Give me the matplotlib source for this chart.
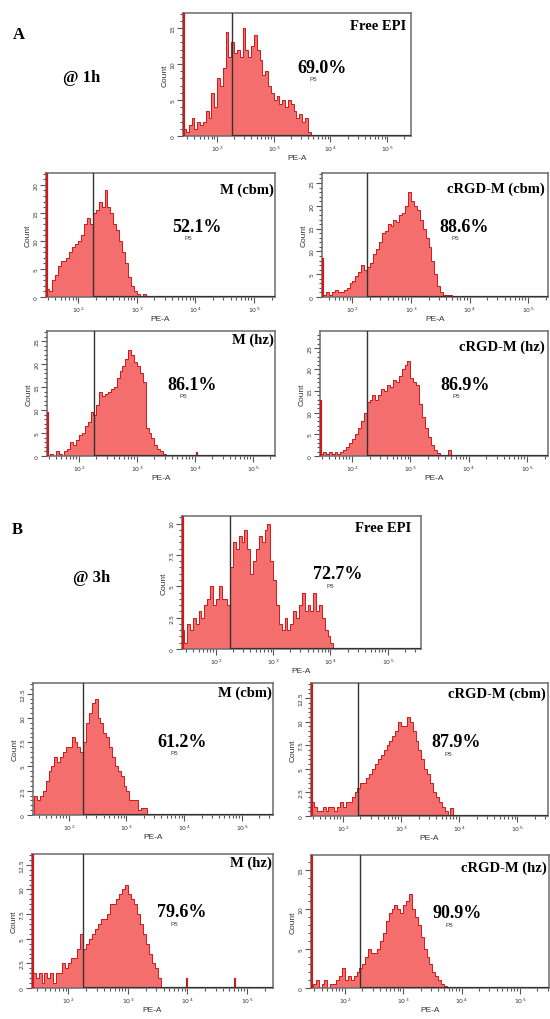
import numpy as np
import matplotlib.pyplot as plt
from matplotlib.ticker import MultipleLocator, AutoMinorLocator, LogLocator, NullFormatter, FuncFormatter

W, H = 550, 1020

# PE-A histograms: counts per bin, bins are 0.05 decade wide starting at 10^1.40
BIN_START, BIN_WIDTH = 1.40, 0.05
GATE = 180  # P5 gate position on PE-A

free_epi_1h = [1, 0.5, 1.5, 2.5, 1, 2, 1.5, 2, 3.5, 2.5,
               6, 4, 8, 7, 9.5, 14.5, 11, 13, 11.5, 12,
               11, 15, 12, 11, 12.5, 14, 12, 10.5, 8.5, 9,
               7, 6, 5, 5.5, 4.5, 5, 4, 5, 4.5, 3.5,
               2.5, 3, 2, 2.5, 0.5]
m_cbm_1h = [3, 1.5, 1, 3, 4, 5.5, 6.5, 6.5, 7, 8,
            9, 9.5, 10, 11, 13, 14, 13, 15, 15.5, 17,
            16, 19, 16, 15, 13, 12, 10, 8, 6, 3.5,
            2, 1, 0.5, 0, 0.5]
crgd_cbm_1h = [0, 0.5, 0.5, 1, 0.5, 1, 1.5, 1, 1, 1.5,
               2, 3, 3.5, 4.5, 5.5, 7, 6, 6.5, 7.5, 9.5,
               10.5, 12, 14, 14.5, 16, 15.5, 17, 16.5, 18, 18.5,
               20, 23, 21, 20, 19, 17, 15, 13, 11, 8,
               5, 2.5, 1, 0.5, 0.5, 0.5, 0]
m_hz_1h = [0, 0, 0.5, 0, 1, 0.5, 0, 1, 1.5, 3,
           2.5, 3.5, 4.5, 5, 6.5, 7.5, 9.5, 9, 11, 14,
           13, 13.5, 14, 14.5, 15, 17, 18.5, 19.5, 21, 23,
           22, 20.5, 19.5, 18, 16, 6, 5, 4, 2.5, 1.5,
           1, 0.5, 0]
crgd_hz_1h = [0, 0.5, 1, 0.5, 1, 0.5, 1, 0.5, 1, 1.5,
              2, 3, 4, 5, 6.5, 8, 10, 12.5, 13, 14,
              13, 14, 15.5, 15, 16.5, 16, 17.5, 17, 18.5, 20,
              21, 22, 18, 17, 16.5, 12, 9, 6.5, 4.5, 2.5,
              1.5, 0.8, 0, 0, 0, 1.5, 0]

free_epi_3h = [1.5, 0.5, 2, 1.5, 2.5, 2, 3, 2.5, 3.5, 4,
               5, 3.5, 4, 5, 4, 4, 3.5, 6.5, 8.5, 8,
               9, 8.5, 9.5, 8, 6, 7, 8, 9, 8.5, 9.5,
               10, 7, 5.5, 3.5, 2, 1.5, 2.5, 1.5, 2, 3,
               2.5, 3.5, 4.5, 3, 3.5, 3, 4.5, 3, 3.5, 2.5,
               1.5, 1, 0.5, 0]
m_cbm_3h = [2, 1.5, 2, 2.5, 3.5, 4.5, 5, 6, 5.5, 6,
            6.5, 7, 7, 8, 7.5, 7, 6.5, 7.5, 9.5, 10.5,
            11.5, 12, 10, 9.5, 8.5, 8, 7, 6, 5, 4.5,
            4, 3, 2.5, 1.5, 1.5, 1.5, 0.5, 0.7, 0.7, 0]
crgd_cbm_3h = [0.5, 1.5, 1, 0.5, 0.5, 1, 0.5, 1, 1, 0.5,
               1, 1.5, 1, 1.5, 1.5, 2, 2.5, 3, 3.5, 3.5,
               4, 4.5, 5, 5.5, 6, 6.5, 7, 7.5, 8, 8.5,
               9, 10, 9.5, 9.5, 10.5, 10, 9, 8, 7, 6,
               5, 4.5, 3.5, 2.5, 2, 1.5, 1, 0.5, 0, 0.8, 0]
m_hz_3h = [1.5, 1, 1.5, 0.5, 1.5, 1, 1.5, 0.5, 1.5, 1.5,
           2.5, 2, 2.5, 3, 3, 4, 5.5, 4, 4.5, 5,
           5.5, 6, 6.5, 7, 7, 7.5, 8.5, 8.5, 9, 9.5,
           10, 10.5, 9.5, 9, 8.5, 7.5, 6.5, 5.5, 4.5, 3.5,
           2.5, 2, 1, 0]
crgd_hz_3h = [0, 0.5, 1, 0, 0.5, 1, 0, 0.5, 0.5, 1,
              1.5, 2.5, 1, 1.5, 1, 1.5, 2, 2.5, 3, 4,
              5, 4.5, 4.5, 5, 6, 7, 8.5, 9.5, 10, 10.5,
              10, 9.5, 10.5, 11, 12, 10, 9, 8, 6.5, 5,
              4, 3, 2, 1.5, 1, 0.5, 0.3, 0]

panel_counts = [free_epi_1h, m_cbm_1h, crgd_cbm_1h, m_hz_1h, crgd_hz_1h,
                free_epi_3h, m_cbm_3h, crgd_cbm_3h, m_hz_3h, crgd_hz_3h]
panel_names = ['Free EPI', 'M (cbm)', 'cRGD-M (cbm)', 'M (hz)', 'cRGD-M (hz)',
               'Free EPI', 'M (cbm)', 'cRGD-M (cbm)', 'M (hz)', 'cRGD-M (hz)']
panel_pcts = ['69.0%', '52.1%', '88.6%', '86.1%', '86.9%',
              '72.7%', '61.2%', '87.9%', '79.6%', '90.9%']
# events piled up at the lower end of the scale
pile_up = [40, 40, 8.5, 9.5, 13, 40, 0, 40, 40, 40]
# isolated events far right of the main population
stray_pe = [[], [], [], [11000], [], [], [], [], [9800, 63000], []]
stray_n = [[], [], [], [0.8], [], [], [], [], [1, 1], []]

# layout: frame in pixels (left, right, top, bottom), log10 x span, y range
frames = [(183, 411, 14, 137), (46, 275, 174, 298), (322, 548, 174, 298),
          (47, 275, 332, 457), (320, 548, 332, 457),
          (182, 421, 517, 650), (33, 273, 684, 816), (311, 548, 684, 817),
          (32, 273, 855, 989), (311, 549, 856, 989)]
xspans = [(1.40, 5.42), (1.45, 5.36), (1.48, 5.34), (1.45, 5.38), (1.45, 5.36),
          (1.41, 5.58), (1.38, 5.54), (1.45, 5.53), (1.39, 5.44), (1.42, 5.50)]
ymaxs = [17.1, 22.1, 27.2, 27.2, 28.9, 10.6, 13.6, 14.1, 13.6, 16.9]
ysteps = [5, 5, 5, 5, 5, 2.5, 2.5, 2.5, 2.5, 5]
name_pos = [(0.98, 0.90), (0.995, 0.87), (0.985, 0.88), (0.995, 0.93), (0.985, 0.88),
            (0.96, 0.91), (0.995, 0.93), (0.99, 0.92), (0.995, 0.94), (0.99, 0.91)]
pct_pos = [(0.50, 0.56), (0.55, 0.57), (0.52, 0.57), (0.53, 0.57), (0.53, 0.57),
           (0.55, 0.57), (0.52, 0.56), (0.51, 0.56), (0.52, 0.57), (0.51, 0.57)]

FILL = '#F46E6E'
EDGE = '#D01818'
FRAME = '#6b6b6b'
SERIF = 'Liberation Serif'
SANS = 'Liberation Sans'

fig = plt.figure(figsize=(W / 100, H / 100), dpi=100)

for i in range(10):
    L, R, T, B = frames[i]
    ax = fig.add_axes([L / W, 1 - B / H, (R - L) / W, (B - T) / H])
    c = np.asarray(panel_counts[i], dtype=float)
    edges = 10 ** (BIN_START + BIN_WIDTH * np.arange(len(c) + 1))
    ax.stairs(c, edges, fill=True, color=FILL, lw=0)
    ax.stairs(c, edges, color=EDGE, lw=0.7)
    if stray_pe[i]:
        ax.vlines(stray_pe[i], 0, stray_n[i], color=EDGE, lw=1.5)

    lo, hi = xspans[i]
    ax.set_xscale('log')
    ax.set_xlim(10 ** lo, 10 ** hi)
    ax.set_ylim(0, ymaxs[i])
    if pile_up[i]:
        ax.vlines(10 ** lo, 0, pile_up[i], color=EDGE, lw=3, zorder=3)

    # P5 gate
    ax.axvline(GATE, color='#333333', lw=1, zorder=4)
    ax.hlines(0, GATE, 10 ** hi, color='#333333', lw=1.6, zorder=4)

    ax.xaxis.set_major_locator(LogLocator(base=10))
    ax.xaxis.set_minor_locator(LogLocator(base=10, subs=np.arange(2, 10)))
    ax.xaxis.set_minor_formatter(NullFormatter())
    ax.yaxis.set_major_locator(MultipleLocator(ysteps[i]))
    ax.yaxis.set_minor_locator(AutoMinorLocator(5))
    ax.yaxis.set_major_formatter(FuncFormatter(lambda v, p: f'{v:g}'))
    ax.tick_params(which='both', colors='#555555', labelcolor='#333333',
                   labelsize=4.5, width=0.8, direction='out')
    ax.tick_params(which='major', length=4, pad=1.5)
    ax.tick_params(which='minor', length=2)
    ax.tick_params(axis='y', labelrotation=90)
    for lbl in ax.get_yticklabels():
        lbl.set_va('center')
    for sp in ax.spines.values():
        sp.set_color(FRAME)
        sp.set_linewidth(1.1)

    ax.set_xlabel('PE-A', fontsize=6, family=SANS, color='#333333', labelpad=1)
    ax.set_ylabel('Count', fontsize=6, family=SANS, color='#333333', labelpad=1)

    nx, ny = name_pos[i]
    ax.text(nx, ny, panel_names[i], transform=ax.transAxes, ha='right', va='center',
            fontsize=10.5, fontweight='bold', family=SERIF)
    px, py = pct_pos[i]
    ax.text(px, py, panel_pcts[i], transform=ax.transAxes, ha='left', va='center',
            fontsize=13, fontweight='bold', family=SERIF)
    ax.text(px + 0.07, py - 0.09, 'P5', transform=ax.transAxes, ha='center', va='center',
            fontsize=4.5, family=SANS, color='#333333')

fig.text(13 / W, 1 - 35 / H, 'A', fontsize=12, fontweight='bold', family=SERIF, va='center')
fig.text(63 / W, 1 - 78 / H, '@ 1h', fontsize=12, fontweight='bold', family=SERIF, va='center')
fig.text(12 / W, 1 - 530 / H, 'B', fontsize=12, fontweight='bold', family=SERIF, va='center')
fig.text(73 / W, 1 - 578 / H, '@ 3h', fontsize=12, fontweight='bold', family=SERIF, va='center')

fig.savefig('out.png', dpi=100)
